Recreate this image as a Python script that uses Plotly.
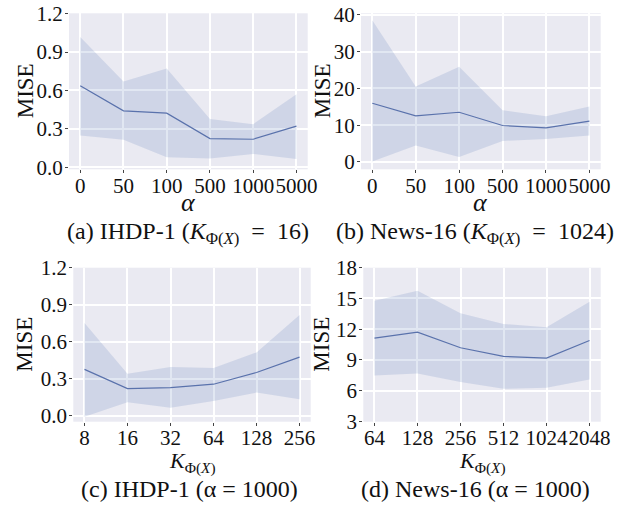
import plotly.graph_objects as go

# ---------------- data ----------------
alpha_labels = ["0", "50", "100", "500", "1000", "5000"]
k_ihdp_labels = ["8", "16", "32", "64", "128", "256"]
k_news_labels = ["64", "128", "256", "512", "1024", "2048"]

a_mean = [0.637, 0.441, 0.423, 0.224, 0.219, 0.321]
a_upper = [1.017, 0.670, 0.772, 0.378, 0.337, 0.571]
a_lower = [0.248, 0.214, 0.078, 0.068, 0.104, 0.065]

b_mean = [15.96, 12.5, 13.5, 9.9, 9.25, 11.07]
b_upper = [38.5, 20.5, 25.9, 14.06, 12.4, 15.06]
b_lower = [0.1, 4.5, 1.36, 5.7, 6.26, 7.17]

c_mean = [0.375, 0.220, 0.228, 0.255, 0.350, 0.475]
c_upper = [0.752, 0.339, 0.394, 0.386, 0.513, 0.817]
c_lower = [-0.008, 0.109, 0.065, 0.119, 0.187, 0.133]

d_mean = [11.13, 11.71, 10.19, 9.35, 9.19, 10.90]
d_upper = [14.77, 15.74, 13.55, 12.52, 12.19, 14.68]
d_lower = [7.48, 7.68, 6.84, 6.19, 6.29, 7.10]

# ---------------- layout helpers ----------------
W, H = 624, 506
FONT = "Liberation Serif"
BG = "#EAEAF2"
LINE = "rgb(90,114,172)"
FILL = "rgba(76,114,176,0.17)"
FS = 21
CAP_FS = 24

panels = [
    (alpha_labels, a_mean, a_upper, a_lower, (69, 307.7), (13.3, 169.3), [-0.016, 1.203], [0, 0.3, 0.6, 0.9, 1.2], "0.1f"),
    (alpha_labels, b_mean, b_upper, b_lower, (361, 600.7), (13.3, 169.3), [-2.0, 40.4], [0, 10, 20, 30, 40], "d"),
    (k_ihdp_labels, c_mean, c_upper, c_lower, (73.3, 310.7), (267.7, 421.7), [-0.049, 1.2], [0, 0.3, 0.6, 0.9, 1.2], "0.1f"),
    (k_news_labels, d_mean, d_upper, d_lower, (363.3, 600.7), (267.7, 421.7), [2.98, 18.0], [3, 6, 9, 12, 15, 18], "d"),
]

fig = go.Figure()
layout = dict(
    width=W, height=H,
    margin=dict(l=0, r=0, t=0, b=0, autoexpand=False),
    paper_bgcolor="white",
    plot_bgcolor=BG,
    showlegend=False,
    font=dict(family=FONT, size=FS, color="#111"),
)

annotations = []
for i, (labels, mean, upper, lower, xp, yp, yr, yt, fmt) in enumerate(panels):
    n = i + 1
    xa = "x" if n == 1 else f"x{n}"
    ya = "y" if n == 1 else f"y{n}"
    xs = list(range(len(labels)))
    fig.add_trace(go.Scatter(x=xs, y=lower, mode="lines", line=dict(width=0),
                             xaxis=xa, yaxis=ya, hoverinfo="skip"))
    fig.add_trace(go.Scatter(x=xs, y=upper, mode="lines", line=dict(width=0),
                             fill="tonexty", fillcolor=FILL, xaxis=xa, yaxis=ya,
                             hoverinfo="skip"))
    fig.add_trace(go.Scatter(x=xs, y=mean, mode="lines",
                             line=dict(color=LINE, width=1.2),
                             xaxis=xa, yaxis=ya))
    xkey = "xaxis" if n == 1 else f"xaxis{n}"
    ykey = "yaxis" if n == 1 else f"yaxis{n}"
    layout[xkey] = dict(
        domain=[xp[0] / W, xp[1] / W],
        anchor=ya,
        range=[-0.26, 5.26],
        tickmode="array", tickvals=xs, ticktext=labels,
        tickangle=0, automargin=False, ticklabelstandoff=-6,
        showgrid=True, gridcolor="white", gridwidth=1.5,
        zeroline=False, showline=False,
        ticks="outside", ticklen=3, tickcolor="#444", tickwidth=1,
        tickfont=dict(family=FONT, size=FS, color="#111"),
    )
    if fmt == "d":
        ticktext = [str(v) for v in yt]
    else:
        ticktext = [f"{v:.1f}" for v in yt]
    layout[ykey] = dict(
        domain=[1 - yp[1] / H, 1 - yp[0] / H],
        anchor=xa,
        range=yr,
        tickmode="array", tickvals=yt, ticktext=ticktext,
        tickangle=0, automargin=False, ticklabelstandoff=-2,
        showgrid=True, gridcolor="white", gridwidth=1.5,
        zeroline=False, showline=False,
        ticks="outside", ticklen=3, tickcolor="#444", tickwidth=1,
        tickfont=dict(family=FONT, size=FS, color="#111"),
    )
    ycen = 1 - (yp[0] + yp[1]) / 2 / H
    title_x = 25 if i % 2 == 0 else 322
    annotations.append(dict(text="MISE", x=title_x / W, y=ycen, xref="paper", yref="paper",
                            showarrow=False, textangle=-90,
                            font=dict(family=FONT, size=23, color="#111"),
                            xanchor="center", yanchor="middle"))

xcen = [(69 + 307.7) / 2, (361 + 600.7) / 2, (73.3 + 310.7) / 2, (363.3 + 600.7) / 2]
xtitle_y = [202, 202, 462, 462]
xtitles = ["<i>α</i>", "<i>α</i>",
           "<i>K</i><sub>Φ(<i>X</i>)</sub>", "<i>K</i><sub>Φ(<i>X</i>)</sub>"]
xtitle_fs = [26, 26, 22, 22]
for cx, ty, t, fs in zip(xcen, xtitle_y, xtitles, xtitle_fs):
    annotations.append(dict(text=t, x=cx / W, y=1 - ty / H, xref="paper", yref="paper",
                            showarrow=False, font=dict(family=FONT, size=fs, color="#111"),
                            xanchor="center", yanchor="middle"))

captions = [
    "(a) IHDP-1 (<i>K</i><sub>Φ(<i>X</i>)</sub>\u2002=\u200216)",
    "(b) News-16 (<i>K</i><sub>Φ(<i>X</i>)</sub>\u2002=\u20021024)",
    "(c) IHDP-1 (α = 1000)",
    "(d) News-16 (α = 1000)",
]
cap_x = [188, 475, 189, 475]
cap_y = [233, 233, 489, 489]
for cx, cy, t in zip(cap_x, cap_y, captions):
    annotations.append(dict(text=t, x=cx / W, y=1 - cy / H, xref="paper", yref="paper",
                            showarrow=False, font=dict(family=FONT, size=CAP_FS, color="#111"),
                            xanchor="center", yanchor="middle"))

layout["annotations"] = annotations
fig.update_layout(**layout)
fig.write_html("out.html", config={"displayModeBar": False},
               post_script="document.body.style.margin='0';")
